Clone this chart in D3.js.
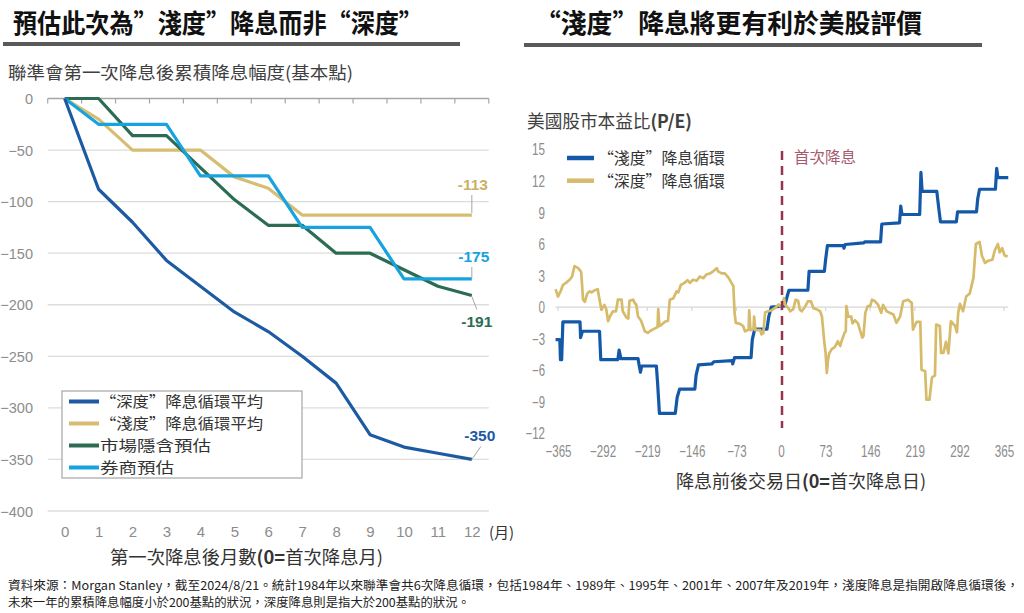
<!DOCTYPE html>
<html><head><meta charset="utf-8">
<script src="https://cdn.jsdelivr.net/npm/d3@7/dist/d3.min.js"></script>
<style>
body{margin:0;background:#fff;}
svg{display:block;font-family:"Noto Sans CJK TC","Noto Sans",sans-serif;}
</style></head><body>
<svg id="c" width="1024" height="613"></svg>
<script>
// ---------- LEFT CHART DATA ----------
const months = [0,1,2,3,4,5,6,7,8,9,10,11,12];
const deepAvg      = [0,-88,-120,-157,-182,-207,-226,-250,-276,-326,-338,-344,-350];
const shallowAvg   = [0,-20,-50,-50,-50,-76,-87,-113,-113,-113,-113,-113,-113];
const marketImplied= [0,0,-36,-36,-67,-98,-123,-123,-150,-150,-166,-182,-191];
const brokerEst    = [0,-25,-25,-25,-75,-75,-75,-125,-125,-125,-175,-175,-175];
const leftYTicks   = [0,-50,-100,-150,-200,-250,-300,-350,-400];
const leftSeriesNames = ["“深度”降息循環平均","“淺度”降息循環平均","市場隱含預估","券商預估"];
const endLabels = ["-350","-113","-191","-175"];

// ---------- RIGHT CHART DATA ----------
const peTicks  = [15,12,9,6,3,0,-3,-6,-9,-12];
const dayTicks = [-365,-292,-219,-146,-73,0,73,146,219,292,365];
const rightSeriesNames = ["“淺度”降息循環","“深度”降息循環"];
// [trading day, P/E change]
const shallowPE = [[-369,-3.1],[-362,-3.1],[-361,-5.0],[-359,-5.0],[-357,-1.4],[-329,-1.4],[-328,-2.9],[-325,-2.3],[-297,-2.3],[-295,-5.0],[-267,-5.0],[-265,-4.1],[-262,-4.9],[-234,-4.9],[-232,-5.6],[-230,-6.2],[-228,-5.6],[-204,-5.6],[-202,-7.2],[-199,-10.1],[-173,-10.1],[-170,-8.6],[-166,-7.8],[-141,-7.8],[-139,-6.5],[-135,-5.5],[-113,-5.4],[-110,-5.2],[-80,-5.1],[-79,-5.4],[-76,-4.8],[-49,-4.8],[-47,-3.1],[-43,-2.1],[-23,-2.1],[-20,-0.9],[-16,0.0],[6,0.1],[10,1.0],[13,1.6],[44,1.6],[46,3.4],[71,3.4],[73,4.5],[76,5.85],[102,5.85],[103,5.6],[105,5.95],[135,6.1],[137,6.2],[163,6.2],[165,7.9],[194,8.0],[196,9.6],[198,8.8],[227,8.8],[229,12.8],[231,11.0],[255,11.0],[258,9.5],[261,8.1],[287,8.1],[289,9.05],[320,9.05],[322,10.3],[325,11.2],[351,11.2],[353,13.2],[355,12.3],[372,12.3]];
const deepPE = [[-369,1.7],[-365,1.0],[-360,1.6],[-357,2.1],[-352,2.3],[-346,2.6],[-342,2.9],[-338,3.9],[-332,3.7],[-329,3.5],[-327,3.3],[-324,0.7],[-321,0.5],[-317,1.3],[-313,1.5],[-310,1.4],[-305,1.6],[-300,1.7],[-297,0.7],[-294,-0.25],[-289,0.2],[-286,-0.2],[-283,-1.35],[-280,-0.9],[-275,-0.4],[-270,-0.4],[-267,0.7],[-261,0.7],[-259,-0.4],[-253,-1.0],[-250,-1.1],[-248,0.6],[-242,0.7],[-239,0.35],[-237,0.25],[-234,-0.9],[-229,-1.3],[-223,-2.3],[-218,-2.45],[-212,-2.2],[-207,-2.05],[-202,-1.9],[-201,-0.2],[-199,-1.8],[-196,-1.7],[-190,-1.4],[-185,-1.3],[-182,0.7],[-176,0.85],[-171,1.5],[-168,1.4],[-164,2.1],[-158,2.3],[-153,2.55],[-149,2.3],[-144,2.6],[-138,2.5],[-133,2.9],[-127,2.75],[-122,3.1],[-116,3.2],[-111,3.4],[-105,3.7],[-103,3.4],[-97,3.2],[-92,3.2],[-86,2.8],[-81,2.3],[-78,2.0],[-76,-0.55],[-74,-1.5],[-67,-1.6],[-62,-1.8],[-59,-2.3],[-53,-2.15],[-52,-0.3],[-50,-2.2],[-45,-2.1],[-44,-0.9],[-42,-2.2],[-34,-2.2],[-32,-2.6],[-29,-2.5],[-26,-0.5],[-21,-0.4],[-15,-0.3],[-10,-0.1],[-4,0.25],[-2,0.1],[1,0.1],[5,0.85],[7,0.2],[12,-0.1],[15,-0.4],[20,-0.2],[24,0.7],[28,0.6],[31,-0.25],[34,-0.4],[39,0.0],[44,0.55],[49,0.55],[53,-0.1],[58,-0.2],[64,-0.4],[67,-0.9],[71,-3.4],[73,-4.35],[75,-6.25],[77,-5.0],[79,-4.4],[83,-4.0],[88,-3.8],[93,-3.25],[97,-3.7],[99,-3.25],[104,-2.45],[106,-2.3],[107,0.1],[110,-0.9],[115,-0.9],[117,-1.55],[121,-1.25],[126,-1.55],[129,-2.15],[133,-2.9],[135,-2.75],[138,-0.55],[142,0.1],[146,0.1],[149,0.7],[154,0.55],[159,0.2],[164,-0.55],[167,0.2],[173,-0.4],[178,-0.55],[184,-0.7],[189,-1.5],[195,-0.9],[200,0.55],[208,0.7],[214,0.4],[216,-2.15],[222,-1.4],[228,-1.4],[230,-5.95],[236,-6.1],[238,-8.8],[243,-8.8],[247,-6.7],[252,-6.5],[254,-1.66],[260,-1.8],[262,-4.35],[266,-4.35],[270,-3.3],[274,-4.4],[278,-1.35],[285,-1.8],[288,-2.4],[290,-0.55],[293,0.3],[298,-0.4],[303,1.0],[309,1.3],[315,2.8],[319,6.0],[325,6.2],[329,4.85],[334,4.2],[339,4.4],[346,4.5],[350,5.4],[355,6.0],[358,5.2],[362,5.6],[366,4.9],[371,4.8]];

const sourceLine1 = "資料來源：Morgan Stanley，截至2024/8/21。統計1984年以來聯準會共6次降息循環，包括1984年、1989年、1995年、2001年、2007年及2019年，淺度降息是指開啟降息循環後，";
const sourceLine2 = "未來一年的累積降息幅度小於200基點的狀況，深度降息則是指大於200基點的狀況。";

// ---------- DRAW ----------
const svg = d3.select("#c");
const C = {deep:"#1c5aa3", shallow:"#d6bd72", market:"#2b6c52", broker:"#16a3df",
           rBlue:"#1459a8", rGold:"#d6bb6b", grid:"#dcdcdc", tick:"#8c8c8c"};
const ARIAL = "'Liberation Sans',Arial,sans-serif";

// Titles
svg.append("text").attr("x",13).attr("y",33).attr("font-size",26).attr("font-weight","bold")
  .attr("fill","#111").attr("textLength",410).attr("lengthAdjust","spacingAndGlyphs")
  .text("預估此次為”淺度”降息而非“深度”");
svg.append("rect").attr("x",3).attr("y",42).attr("width",457).attr("height",4).attr("fill","#5a5a5a");
svg.append("text").attr("x",535).attr("y",33).attr("font-size",26).attr("font-weight","bold")
  .attr("fill","#111").attr("textLength",387).attr("lengthAdjust","spacingAndGlyphs")
  .text("“淺度”降息將更有利於美股評價");
svg.append("rect").attr("x",524).attr("y",43).attr("width",458).attr("height",4).attr("fill","#5a5a5a");

// ===== LEFT CHART =====
const xL = d3.scalePoint().domain(months).range([47.7,488.8]).padding(0.5);
const yL = d3.scaleLinear().domain([-400,0]).range([511,98.5]);

svg.append("text").attr("x",8).attr("y",79).attr("font-size",17.5).attr("fill","#404040")
  .attr("textLength",345).attr("lengthAdjust","spacingAndGlyphs")
  .text("聯準會第一次降息後累積降息幅度(基本點)");

const gL = svg.append("g");
gL.selectAll(".gl").data(leftYTicks.filter(d=>d!==0)).join("line")
  .attr("x1",47.7).attr("x2",488.8).attr("y1",d=>yL(d)).attr("y2",d=>yL(d))
  .attr("stroke",C.grid).attr("stroke-width",1.3);
const yAxisL = d3.axisLeft(yL).tickValues(leftYTicks).tickSize(0).tickPadding(0);
const ya = gL.append("g").attr("transform","translate(33,0)").call(yAxisL);
ya.select(".domain").remove();
ya.selectAll("text").attr("font-family",ARIAL).attr("font-size",14.5).attr("fill",C.tick).attr("dy","0.35em");

const xAxisL = d3.axisBottom(xL).tickSize(0).tickPadding(0);
const xa = gL.append("g").attr("transform","translate(0,537)").call(xAxisL);
xa.select(".domain").remove();
xa.selectAll("text").attr("font-family",ARIAL).attr("font-size",15).attr("fill",C.tick).attr("dy",0);
svg.append("text").attr("x",489).attr("y",538).attr("font-size",15).attr("fill","#333").text("(月)");

const step = xL.step();
gL.append("line").attr("x1",47.7).attr("x2",488.8).attr("y1",yL(0)).attr("y2",yL(0)).attr("stroke","#a6a6a6").attr("stroke-width",1.3);
gL.selectAll(".ct").data(d3.range(months.length+1)).join("line")
  .attr("x1",d=>47.7+d*step).attr("x2",d=>47.7+d*step)
  .attr("y1",yL(0)).attr("y2",yL(0)+5).attr("stroke","#a6a6a6").attr("stroke-width",1.2);

const lineL = d3.line().x((d,i)=>xL(months[i])).y(d=>yL(d));
const leftSeries = [
  {vals:shallowAvg, col:C.shallow},
  {vals:marketImplied, col:C.market},
  {vals:brokerEst, col:C.broker},
  {vals:deepAvg, col:C.deep}
];
leftSeries.forEach(s=>{
  gL.append("path").attr("d",lineL(s.vals)).attr("fill","none").attr("stroke",s.col)
    .attr("stroke-width",3.2).attr("stroke-linejoin","round");
});

const last = months.length-1, xe = xL(months[last]);
const ann = [
  {v:shallowAvg[last], t:endLabels[1], col:"#cdb065", l:[[0,-2],[0,-20]], tx:1, ty:-25},
  {v:brokerEst[last], t:endLabels[3], col:C.broker, l:[[0,-1],[0,-12]], tx:2, ty:-17},
  {v:marketImplied[last], t:endLabels[2], col:C.market, l:[[0,1],[5,14]], tx:5, ty:32},
  {v:deepAvg[last], t:endLabels[0], col:C.deep, l:[[0,0],[9,-13]], tx:8, ty:-18}
];
ann.forEach(a=>{
  const y0 = yL(a.v);
  gL.append("line").attr("x1",xe+a.l[0][0]).attr("y1",y0+a.l[0][1]).attr("x2",xe+a.l[1][0]).attr("y2",y0+a.l[1][1])
    .attr("stroke","#a6a6a6").attr("stroke-width",1);
  gL.append("text").attr("x",xe+a.tx).attr("y",y0+a.ty).attr("text-anchor","middle")
    .attr("font-family",ARIAL).attr("font-weight","bold").attr("font-size",15.5).attr("fill",a.col).text(a.t);
});

// legend
const lg = svg.append("g");
lg.append("rect").attr("x",62).attr("y",391).attr("width",240).attr("height",87)
  .attr("fill","#fff").attr("stroke","#a6a6a6").attr("stroke-width",1.2);
const legOrder = [{n:leftSeriesNames[0],c:C.deep,w:163},{n:leftSeriesNames[1],c:C.shallow,w:163},{n:leftSeriesNames[2],c:C.market,w:111},{n:leftSeriesNames[3],c:C.broker,w:74}];
legOrder.forEach((d,i)=>{
  const y = 401.5 + i*22;
  lg.append("line").attr("x1",69).attr("x2",99).attr("y1",y).attr("y2",y).attr("stroke",d.c).attr("stroke-width",4);
  lg.append("text").attr("x",100).attr("y",y+5.5).attr("font-size",15).attr("fill","#333")
    .attr("textLength",d.w).attr("lengthAdjust","spacingAndGlyphs").text(d.n);
});

const xt = svg.append("text").attr("x",110).attr("y",564).attr("font-size",18).attr("fill","#333")
  .attr("textLength",273).attr("lengthAdjust","spacingAndGlyphs");
xt.append("tspan").text("第一次降息後月數");
xt.append("tspan").attr("font-weight","bold").text("(0=");
xt.append("tspan").text("首次降息月)");

// ===== RIGHT CHART =====
const xR = d3.scaleLinear().domain([-365,365]).range([558,1004]);
const yR = d3.scaleLinear().domain([-12,15]).range([433.3,149.3]);

const rt = svg.append("text").attr("x",527).attr("y",128).attr("font-size",18).attr("fill","#404040")
  .attr("textLength",165).attr("lengthAdjust","spacingAndGlyphs");
rt.append("tspan").text("美國股市本益比");
rt.append("tspan").attr("font-weight","bold").text("(P/E)");

const gR = svg.append("g");
const yAxisR = d3.axisLeft(yR).tickValues(peTicks).tickSize(0).tickPadding(0);
const yra = gR.append("g").attr("transform","translate(545,0)").call(yAxisR);
yra.select(".domain").remove();
yra.selectAll("text").attr("font-family",ARIAL).attr("font-size",16).attr("fill",C.tick).attr("dy","0.35em")
  .attr("textLength",function(){return this.textContent.length*6.5;}).attr("lengthAdjust","spacingAndGlyphs");

const xAxisR = d3.axisBottom(xR).tickValues(dayTicks).tickSize(0).tickPadding(0);
const xra = gR.append("g").attr("transform","translate(0,457)").call(xAxisR);
xra.select(".domain").remove();
xra.selectAll("text").attr("font-family",ARIAL).attr("font-size",16).attr("fill",C.tick).attr("dy",0)
  .attr("textLength",function(){return this.textContent.length*6.5;}).attr("lengthAdjust","spacingAndGlyphs");

gR.append("line").attr("x1",xR(-369)).attr("x2",xR(372)).attr("y1",yR(0)).attr("y2",yR(0)).attr("stroke","#d6d6d6").attr("stroke-width",1.3);
gR.selectAll(".zt").data(dayTicks).join("line").attr("x1",d=>xR(d)).attr("x2",d=>xR(d))
  .attr("y1",yR(0)).attr("y2",yR(0)+4).attr("stroke","#d6d6d6").attr("stroke-width",1.2);

const lineR = d3.line().x(d=>xR(d[0])).y(d=>yR(d[1]));
gR.append("path").attr("d",lineR(shallowPE)).attr("fill","none").attr("stroke",C.rBlue).attr("stroke-width",3.2).attr("stroke-linejoin","round");
gR.append("path").attr("d",lineR(deepPE)).attr("fill","none").attr("stroke",C.rGold).attr("stroke-width",2.7).attr("stroke-linejoin","round");

gR.append("line").attr("x1",xR(0)+1).attr("x2",xR(0)+1).attr("y1",151).attr("y2",428)
  .attr("stroke","#97344c").attr("stroke-width",2.5).attr("stroke-dasharray","9,6");
svg.append("text").attr("x",794).attr("y",163).attr("font-size",15.5).attr("fill","#a65a6e").text("首次降息");

[{n:rightSeriesNames[0],c:C.rBlue},{n:rightSeriesNames[1],c:C.rGold}].forEach((d,i)=>{
  const y = 158 + i*22.7;
  svg.append("line").attr("x1",567).attr("x2",594).attr("y1",y).attr("y2",y).attr("stroke",d.c).attr("stroke-width",4.5);
  svg.append("text").attr("x",598).attr("y",y+6).attr("font-size",15.5).attr("fill","#333")
    .attr("textLength",127).attr("lengthAdjust","spacingAndGlyphs").text(d.n);
});

const rxt = svg.append("text").attr("x",676).attr("y",488).attr("font-size",18).attr("fill","#333")
  .attr("textLength",250).attr("lengthAdjust","spacingAndGlyphs");
rxt.append("tspan").text("降息前後交易日");
rxt.append("tspan").attr("font-weight","bold").text("(0=");
rxt.append("tspan").text("首次降息日)");

svg.append("text").attr("x",8).attr("y",590).attr("font-size",12).attr("fill","#222")
  .attr("textLength",1011).attr("lengthAdjust","spacingAndGlyphs").text(sourceLine1);
svg.append("text").attr("x",8).attr("y",607).attr("font-size",12).attr("fill","#222")
  .attr("textLength",462).attr("lengthAdjust","spacingAndGlyphs").text(sourceLine2);
</script>
</body></html>
